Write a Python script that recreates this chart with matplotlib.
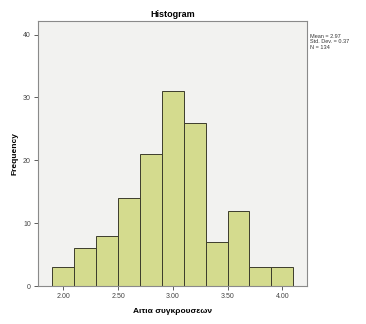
import matplotlib
matplotlib.use("Agg")
import matplotlib.pyplot as plt
import numpy as np

plt.rcParams['font.family'] = ['Liberation Sans', 'DejaVu Sans']

bin_edges = [1.90, 2.10, 2.30, 2.50, 2.70, 2.90, 3.10, 3.30, 3.50, 3.70, 3.90, 4.10]
counts = [3, 6, 8, 14, 21, 31, 26, 7, 12, 3, 3]
xticks = [2.00, 2.50, 3.00, 3.50, 4.00]
xtick_labels = ["2.00", "2.50", "3.00", "3.50", "4.00"]
yticks = [0, 10, 20, 30, 40]
stats_lines = ["Mean = 2.97", "Std. Dev. = 0.37", "N = 134"]

fig = plt.figure(figsize=(3.66, 3.24), dpi=100)
ax = fig.add_axes([0.103, 0.117, 0.735, 0.819])
ax.set_facecolor('#F2F2F0')

lefts = bin_edges[:-1]
widths = np.diff(bin_edges)
ax.bar(lefts, counts, width=widths, align='edge', color='#D4DB8E',
       edgecolor='#3c3c2c', linewidth=0.7)

ax.set_xlim(1.766, 4.223)
ax.set_ylim(0, 42.2)
ax.set_xticks(xticks)
ax.set_xticklabels(xtick_labels)
ax.set_yticks(yticks)
ax.tick_params(labelsize=5, length=3, width=0.6, colors='#444444', pad=2)
for s in ax.spines.values():
    s.set_color('#8a8a8a')
    s.set_linewidth(0.8)

ax.set_title("Histogram", fontsize=6.5, fontweight='bold', pad=3)
ax.set_xlabel("Αιτια συγκρουσεων", fontsize=6, fontweight='bold', labelpad=6)
ax.set_ylabel("Frequency", fontsize=6, fontweight='bold', labelpad=3)

fig.text(0.848, 0.895, "\n".join(stats_lines), fontsize=4, va='top', ha='left',
         color='#333333', linespacing=1.1)

fig.savefig("out.png", dpi=100, facecolor='white')
